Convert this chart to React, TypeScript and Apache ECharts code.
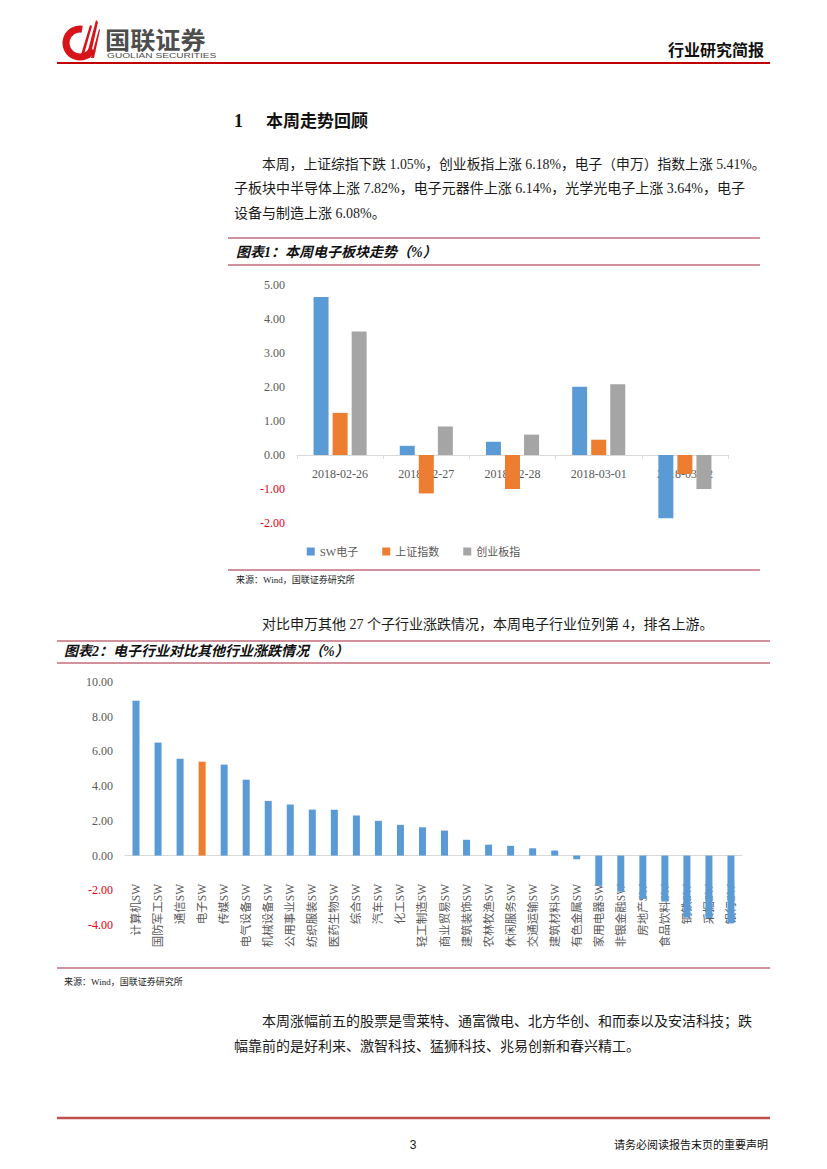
import React, { useEffect, useRef } from "react";
import * as echarts from "echarts";

// ---- Chart 1 data ----
const dates = ["2018-02-26", "2018-02-27", "2018-02-28", "2018-03-01", "2018-03-02"];
const swElectronics = [4.65, 0.27, 0.39, 2.01, -1.86];
const shanghaiComposite = [1.24, -1.13, -1.0, 0.45, -0.56];
const chinext = [3.63, 0.84, 0.6, 2.08, -1.0];
const legendNames = ["SW电子", "上证指数", "创业板指"];

// ---- Chart 2 data ----
const industries = [
  "计算机SW", "国防军工SW", "通信SW", "电子SW", "传媒SW", "电气设备SW", "机械设备SW",
  "公用事业SW", "纺织服装SW", "医药生物SW", "综合SW", "汽车SW", "化工SW", "轻工制造SW",
  "商业贸易SW", "建筑装饰SW", "农林牧渔SW", "休闲服务SW", "交通运输SW", "建筑材料SW",
  "有色金属SW", "家用电器SW", "非银金融SW", "房地产SW", "食品饮料SW", "钢铁SW", "采掘SW", "银行SW",
];
const industryReturns = [
  8.92, 6.51, 5.58, 5.41, 5.24, 4.37, 3.15, 2.94, 2.65, 2.64, 2.31, 2.0, 1.77, 1.63,
  1.44, 0.91, 0.63, 0.56, 0.42, 0.29, -0.21, -1.74, -2.08, -2.5, -2.65, -3.57, -3.6, -3.9,
];
const highlightIndustry = "电子SW";

// ---- Tick settings ----
const chart1Ticks = { min: -2, max: 5, interval: 1 };
const chart2Ticks = { min: -4, max: 10, interval: 2 };

const BLUE = "#5B9BD5";
const ORANGE = "#ED7D31";
const GRAY = "#A5A5A5";
const LABEL_GRAY = "#595959";
const NEG_RED = "#E60012";
const FRAME_RED = "#A3243B";
const SERIF = "'Liberation Serif', 'Times New Roman', 'Noto Sans CJK SC', serif";
const CJK = "'Liberation Serif', 'Noto Sans CJK SC', sans-serif";

function txt(text: string, x: number, y: number, opts: any = {}) {
  return {
    type: "text",
    x,
    y,
    scaleX: opts.scaleX || 1,
    silent: true,
    style: {
      text,
      fill: opts.fill || "#1a1a1a",
      fontSize: opts.fontSize || 14,
      fontFamily: opts.fontFamily || CJK,
      fontWeight: opts.fontWeight || "normal",
      fontStyle: opts.fontStyle || "normal",
      textAlign: opts.align || "left",
      textVerticalAlign: "middle",
    },
  };
}

function hline(x1: number, x2: number, y: number, color: string, width: number) {
  return {
    type: "line",
    silent: true,
    shape: { x1, y1: y, x2, y2: y },
    style: { stroke: color, lineWidth: width },
  };
}

export default function App() {
  const ref = useRef<HTMLDivElement>(null);

  useEffect(() => {
    if (!ref.current) return;
    const chart = echarts.init(ref.current, null, { renderer: "svg" });

    const yLabel = {
      fontFamily: SERIF,
      fontSize: 12,
      margin: 12,
      formatter: (v: number) => v.toFixed(2),
      color: (v: any) => (Number(v) < 0 ? NEG_RED : LABEL_GRAY),
    };

    const graphic: any[] = [
      // header logo
      {
        type: "arc",
        silent: true,
        shape: { cx: 80, cy: 43, r: 14, startAngle: Math.PI * 0.15, endAngle: Math.PI * 1.55 },
        style: { stroke: "#D7141A", lineWidth: 7, fill: "none" },
      },
      {
        type: "polygon",
        silent: true,
        shape: { points: [[86, 58], [90, 58], [98, 22], [96, 20]] },
        style: { fill: "#D7141A" },
      },
      {
        type: "polygon",
        silent: true,
        shape: { points: [[80, 58], [83, 58], [92, 26], [90, 25]] },
        style: { fill: "#D7141A" },
      },
      {
        type: "polygon",
        silent: true,
        shape: { points: [[91, 58], [94, 58], [100, 30], [99, 29]] },
        style: { fill: "#D7141A" },
      },
      txt("国联证券", 105, 38, { fontSize: 24, fontWeight: "bold", fill: "#4D4D4D", fontFamily: "'Noto Sans CJK SC', sans-serif", scaleX: 1.05 }),
      txt("GUOLIAN SECURITIES", 107, 56, { fontSize: 7, fill: "#4D4D4D", fontFamily: "'Liberation Sans', Arial, sans-serif", scaleX: 1.45 }),
      txt("行业研究简报", 764, 50, { fontSize: 16, fontWeight: "bold", align: "right", fill: "#111" }),
      hline(57, 770, 63, "#C00000", 2),

      // section heading & paragraph
      txt("1", 234, 121, { fontSize: 18, fontWeight: "bold", fill: "#111" }),
      txt("本周走势回顾", 266, 121, { fontSize: 17, fontWeight: "bold", fill: "#111" }),
      txt("本周，上证综指下跌 1.05%，创业板指上涨 6.18%，电子（申万）指数上涨 5.41%。", 262, 164, { fontSize: 13.8 }),
      txt("子板块中半导体上涨 7.82%，电子元器件上涨 6.14%，光学光电子上涨 3.64%，电子", 234, 188, { fontSize: 14 }),
      txt("设备与制造上涨 6.08%。", 234, 213, { fontSize: 14 }),

      // chart 1 frame
      hline(228, 760, 238, FRAME_RED, 1),
      txt("图表1：本周电子板块走势（%）", 236, 252, { fontSize: 14, fontWeight: "bold", fontStyle: "italic", fill: "#111" }),
      hline(228, 760, 265, FRAME_RED, 1),
      hline(228, 760, 570, FRAME_RED, 1),
      txt("来源：Wind，国联证券研究所", 236, 580, { fontSize: 9, fill: "#222" }),

      // between charts
      txt("对比申万其他 27 个子行业涨跌情况，本周电子行业位列第 4，排名上游。", 262, 624, { fontSize: 14 }),

      // chart 2 frame
      hline(57, 770, 641, FRAME_RED, 1),
      txt("图表2：电子行业对比其他行业涨跌情况（%）", 64, 651, { fontSize: 14, fontWeight: "bold", fontStyle: "italic", fill: "#111" }),
      hline(57, 770, 663, FRAME_RED, 1),
      hline(57, 770, 968, FRAME_RED, 1),
      txt("来源：Wind，国联证券研究所", 64, 982, { fontSize: 9, fill: "#222" }),

      // closing paragraph
      txt("本周涨幅前五的股票是雪莱特、通富微电、北方华创、和而泰以及安洁科技；跌", 262, 1021, { fontSize: 14 }),
      txt("幅靠前的是好利来、激智科技、猛狮科技、兆易创新和春兴精工。", 234, 1046, { fontSize: 14 }),

      // footer
      hline(57, 770, 1118, "#C0504D", 2.5),
      txt("3", 413, 1145, { fontSize: 12, fontFamily: "'Liberation Sans', Arial, sans-serif", align: "center" }),
      txt("请务必阅读报告末页的重要声明", 768, 1145, { fontSize: 11, align: "right", fill: "#111" }),
    ];

    const option: any = {
      animation: false,
      backgroundColor: "#ffffff",
      textStyle: { fontFamily: SERIF },
      graphic,
      legend: {
        data: legendNames,
        top: 541,
        left: "center",
        itemWidth: 8,
        itemHeight: 8,
        itemGap: 24,
        icon: "rect",
        textStyle: { color: LABEL_GRAY, fontSize: 11, fontFamily: CJK },
      },
      grid: [
        { left: 297, right: 99, top: 285, height: 238, containLabel: false },
        { left: 125, right: 85, top: 682, height: 243, containLabel: false },
      ],
      xAxis: [
        // chart 1: zero line + ticks (bars attached here)
        {
          type: "category",
          gridIndex: 0,
          data: dates,
          position: "bottom",
          axisLine: { onZero: true, lineStyle: { color: "#D9D9D9", width: 1 } },
          axisTick: { show: true, length: 4, lineStyle: { color: "#D9D9D9" } },
          axisLabel: { show: false },
          z: 1,
        },
        // chart 1: labels only, lifted into the plot area (drawn beneath the bars)
        {
          type: "category",
          gridIndex: 0,
          data: dates,
          position: "bottom",
          offset: -61,
          axisLine: { show: false, onZero: false },
          axisTick: { show: false },
          axisLabel: { color: LABEL_GRAY, fontSize: 12, fontFamily: SERIF, margin: 6 },
          z: 0,
        },
        // chart 2: zero line (bars attached here)
        {
          type: "category",
          gridIndex: 1,
          data: industries,
          position: "bottom",
          axisLine: { onZero: true, lineStyle: { color: "#D9D9D9", width: 1 } },
          axisTick: { show: false },
          axisLabel: { show: false },
          z: 1,
        },
        // chart 2: rotated labels (drawn beneath the bars)
        {
          type: "category",
          gridIndex: 1,
          data: industries,
          position: "bottom",
          offset: -44,
          axisLine: { show: false, onZero: false },
          axisTick: { show: false },
          axisLabel: {
            color: LABEL_GRAY,
            fontSize: 11.5,
            fontFamily: CJK,
            rotate: 90,
            margin: 3,
            interval: 0,
          },
          z: 0,
        },
      ],
      yAxis: [
        {
          type: "value",
          gridIndex: 0,
          ...chart1Ticks,
          axisLine: { show: false },
          axisTick: { show: false },
          splitLine: { show: false },
          axisLabel: yLabel,
        },
        {
          type: "value",
          gridIndex: 1,
          ...chart2Ticks,
          axisLine: { show: false },
          axisTick: { show: false },
          splitLine: { show: false },
          axisLabel: yLabel,
        },
      ],
      series: [
        {
          name: legendNames[0],
          type: "bar",
          xAxisIndex: 0,
          yAxisIndex: 0,
          data: swElectronics,
          barWidth: 15,
          barGap: "27%",
          z: 4,
          itemStyle: { color: BLUE },
        },
        {
          name: legendNames[1],
          type: "bar",
          xAxisIndex: 0,
          yAxisIndex: 0,
          data: shanghaiComposite,
          barWidth: 15,
          barGap: "27%",
          z: 4,
          itemStyle: { color: ORANGE },
        },
        {
          name: legendNames[2],
          type: "bar",
          xAxisIndex: 0,
          yAxisIndex: 0,
          data: chinext,
          barWidth: 15,
          barGap: "27%",
          z: 4,
          itemStyle: { color: GRAY },
        },
        {
          name: "行业涨跌",
          type: "bar",
          xAxisIndex: 2,
          yAxisIndex: 1,
          barWidth: 7,
          z: 4,
          data: industryReturns.map((v, i) => ({
            value: v,
            itemStyle: { color: industries[i] === highlightIndustry ? ORANGE : BLUE },
          })),
        },
      ],
    };

    chart.setOption(option);
    return () => chart.dispose();
  }, []);

  return (
    <div
      ref={ref}
      style={{ position: "absolute", left: 0, top: 0, width: 827, height: 1169, background: "#fff" }}
    />
  );
}
